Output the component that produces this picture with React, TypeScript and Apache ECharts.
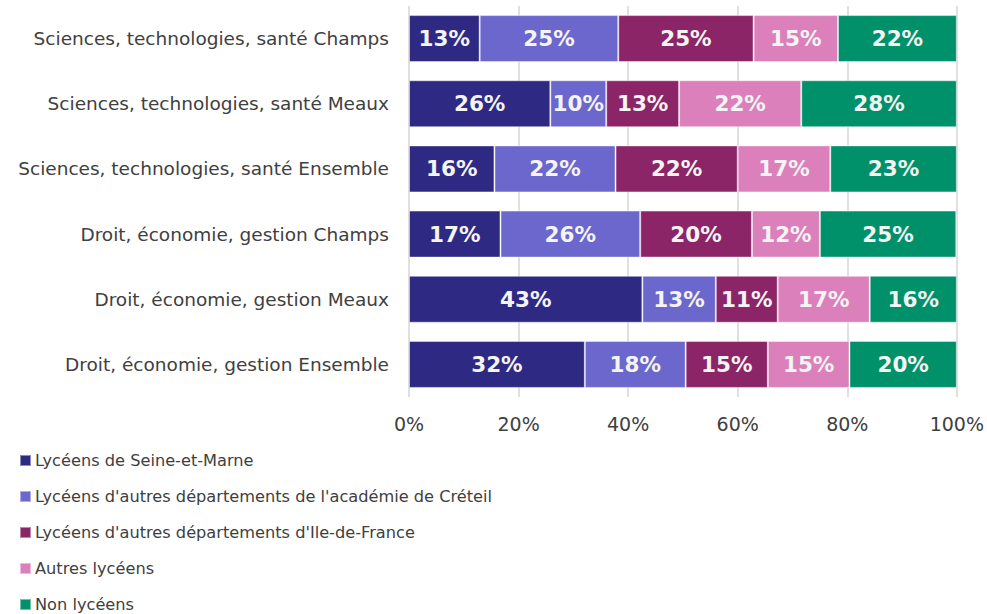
import React, { useEffect, useRef } from "react";
import * as echarts from "echarts";

const categories = [
  "Sciences, technologies, santé Champs",
  "Sciences, technologies, santé Meaux",
  "Sciences, technologies, santé Ensemble",
  "Droit, économie, gestion Champs",
  "Droit, économie, gestion Meaux",
  "Droit, économie, gestion Ensemble",
];

const seriesNames = [
  "Lycéens de Seine-et-Marne",
  "Lycéens d'autres départements de l'académie de Créteil",
  "Lycéens d'autres départements d'Ile-de-France",
  "Autres lycéens",
  "Non lycéens",
];

const seineEtMarne = [12.9, 25.8, 15.6, 16.7, 42.6, 32.1];
const academieCreteil = [25.3, 10.2, 22.1, 25.5, 13.4, 18.4];
const ileDeFrance = [24.7, 13.3, 22.3, 20.4, 11.3, 15.0];
const autres = [15.4, 22.3, 16.9, 12.4, 16.8, 14.9];
const nonLyceens = [21.7, 28.4, 23.1, 24.9, 15.9, 19.6];

const colors = ["#2e2a84", "#6c67cc", "#8b2567", "#db80bb", "#00916b"];

const FONT = "DejaVu Sans";

export default function App() {
  const ref = useRef<HTMLDivElement>(null);
  useEffect(() => {
    if (!ref.current) return;
    const chart = echarts.init(ref.current, undefined, { renderer: "svg" });
    const allData = [seineEtMarne, academieCreteil, ileDeFrance, autres, nonLyceens];
    chart.setOption({
      animation: false,
      textStyle: { fontFamily: FONT },
      grid: { left: 409, right: 28, top: 6, height: 391, containLabel: false },
      xAxis: {
        type: "value",
        min: 0,
        max: 100,
        interval: 20,
        axisLabel: {
          formatter: "{value}%",
          color: "#404040",
          fontSize: 19,
          fontFamily: FONT,
          margin: 17,
        },
        axisLine: { show: false },
        axisTick: { show: false },
        splitLine: { show: true, lineStyle: { color: "#e0e0e0", width: 2 } },
      },
      yAxis: {
        type: "category",
        data: categories,
        inverse: true,
        axisLine: { show: false },
        axisTick: { show: false },
        axisLabel: { color: "#404040", fontSize: 18.5, fontFamily: FONT, margin: 20 },
      },
      legend: {
        orient: "vertical",
        left: 19,
        top: 451,
        height: 200,
        padding: 0,
        itemWidth: 11,
        itemHeight: 11,
        itemGap: 17,
        icon: "rect",
        textStyle: { color: "#404040", fontSize: 16.2, fontFamily: FONT, padding: [0, 0, 0, -1], lineHeight: 19 },
        data: seriesNames,
      },
      series: seriesNames.map((name, i) => ({
        name,
        type: "bar",
        stack: "total",
        barWidth: 47,
        data: allData[i],
        itemStyle: { color: colors[i], borderColor: "rgba(255,255,255,0.45)", borderWidth: 1 },
        label: {
          show: true,
          position: "inside",
          color: "#f4f4f4",
          fontWeight: "bold",
          fontSize: 21.5,
          fontFamily: FONT,
          formatter: (p: any) => Math.round(p.value) + "%",
        },
      })),
    });
    return () => chart.dispose();
  }, []);
  return <div ref={ref} style={{ width: 987, height: 614, position: "absolute", left: 0, top: 0 }} />;
}
